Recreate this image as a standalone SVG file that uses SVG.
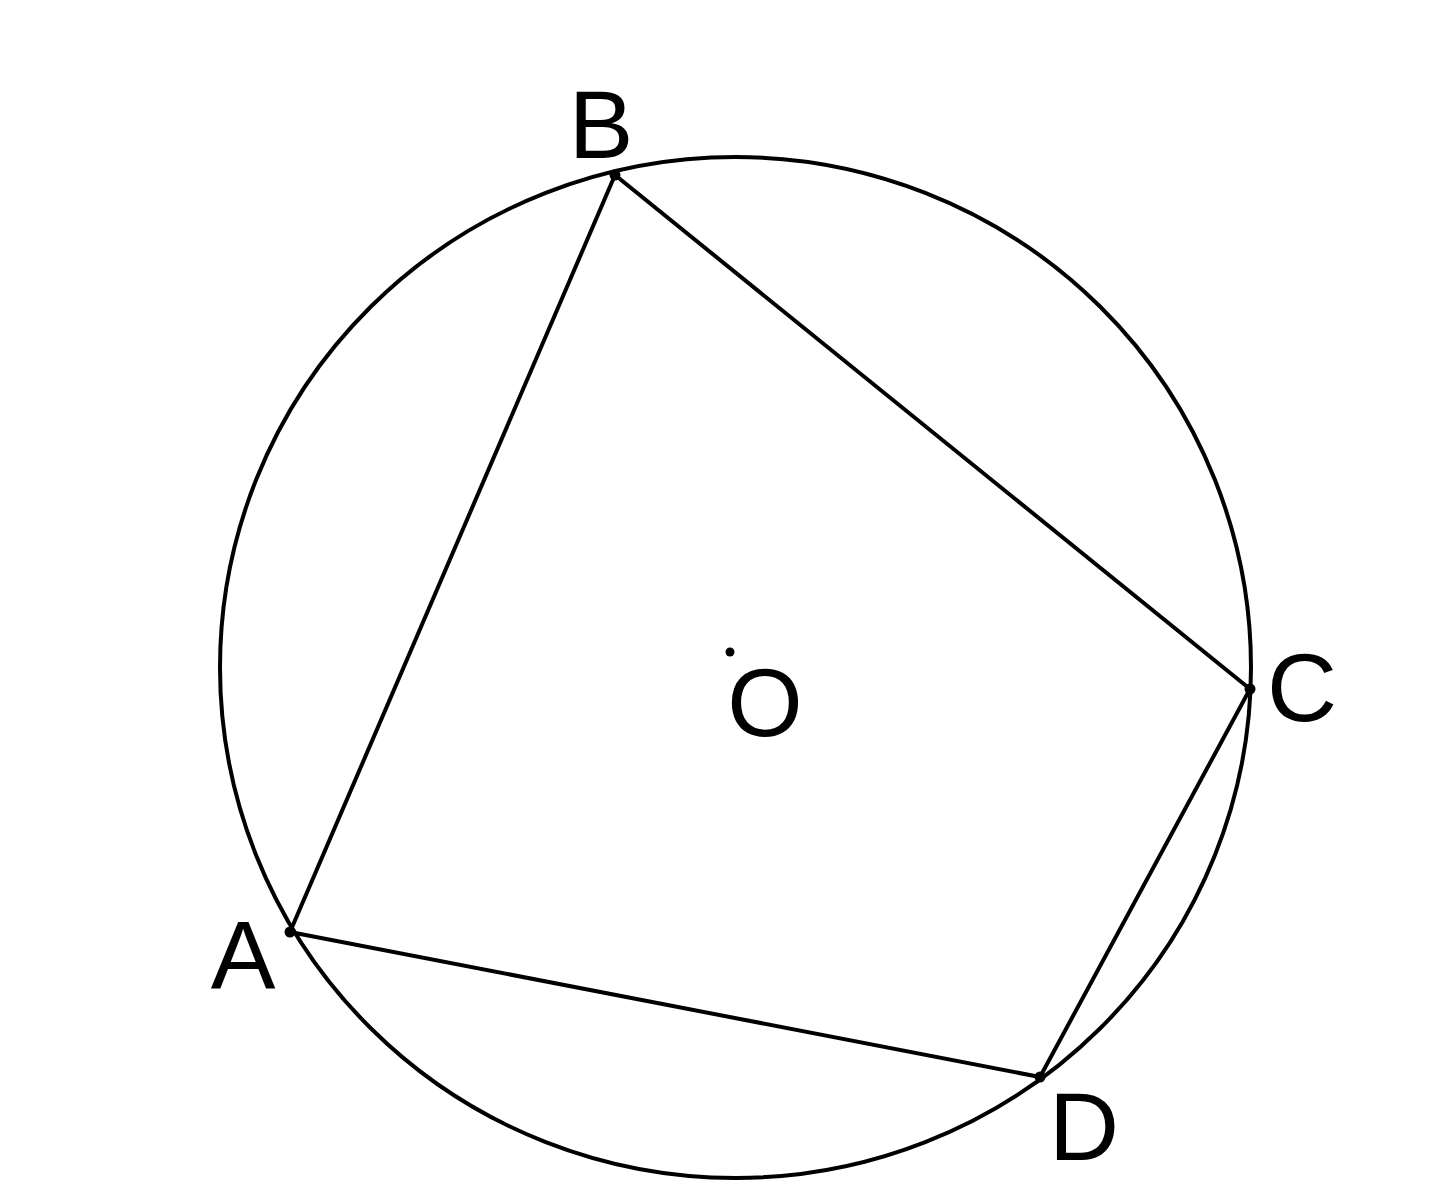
<svg xmlns="http://www.w3.org/2000/svg" width="1435" height="1200" viewBox="0 0 1435 1200">
  <style>
    .edge { stroke: #000; stroke-width: 4; fill: none; stroke-linecap: round; stroke-linejoin: round; }
    .circ { stroke: #000; stroke-width: 4; fill: none; }
    .dot { fill: #000; }
    .lbl { font-family: "Liberation Sans", Arial, sans-serif; font-size: 97px; fill: #000; text-anchor: middle; }
  </style>
  <rect width="1435" height="1200" fill="#fff"/>
  <g id="circle">
    <ellipse class="circ" cx="735.5" cy="667.5" rx="515.5" ry="510.5"/>
  </g>
  <g id="connectors">
    <line class="edge" x1="290" y1="932" x2="615" y2="175"/>
    <line class="edge" x1="615" y1="175" x2="1250" y2="689"/>
    <line class="edge" x1="1250" y1="689" x2="1040" y2="1077"/>
    <line class="edge" x1="1040" y1="1077" x2="290" y2="932"/>
  </g>
  <g id="A">
    <circle class="dot" cx="290" cy="932" r="5.5"/>
    <text class="lbl" x="243" y="988">A</text>
  </g>
  <g id="B">
    <circle class="dot" cx="615" cy="175" r="5.5"/>
    <text class="lbl" x="601" y="158">B</text>
  </g>
  <g id="C">
    <circle class="dot" cx="1250" cy="689" r="5.5"/>
    <text class="lbl" x="1302" y="721">C</text>
  </g>
  <g id="D">
    <circle class="dot" cx="1040" cy="1077" r="5.5"/>
    <text class="lbl" x="1084" y="1160">D</text>
  </g>
  <g id="O">
    <circle class="dot" cx="730" cy="652" r="4.5"/>
    <text class="lbl" x="765" y="736">O</text>
  </g>
</svg>
